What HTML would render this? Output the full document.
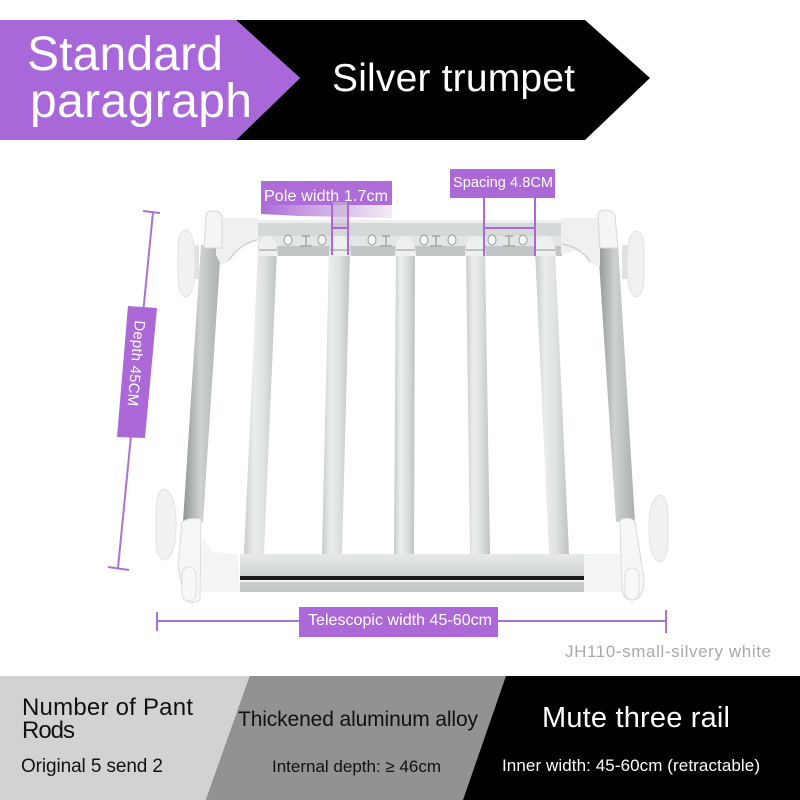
<!DOCTYPE html>
<html>
<head>
<meta charset="utf-8">
<style>
html,body{margin:0;padding:0;background:#fff;width:800px;height:800px;overflow:hidden}
svg{display:block}
text{font-family:"Liberation Sans",sans-serif}
</style>
</head>
<body>
<svg width="800" height="800" viewBox="0 0 800 800" xmlns="http://www.w3.org/2000/svg">
<defs>
<linearGradient id="rod" x1="0" x2="1" y1="0" y2="0">
<stop offset="0" stop-color="#c6caca"/><stop offset=".3" stop-color="#eceeee"/><stop offset=".65" stop-color="#dcdfdf"/><stop offset="1" stop-color="#bec2c2"/>
</linearGradient>
<linearGradient id="side" x1="0" x2="1" y1="0" y2="0">
<stop offset="0" stop-color="#8f9393"/><stop offset=".45" stop-color="#cfd2d2"/><stop offset="1" stop-color="#aaaeae"/>
</linearGradient>
<linearGradient id="bar" x1="0" x2="0" y1="0" y2="1">
<stop offset="0" stop-color="#e8eaea"/><stop offset=".55" stop-color="#cfd2d2"/><stop offset="1" stop-color="#c4c7c7"/>
</linearGradient>
<linearGradient id="fade" x1="0" x2="1" y1="0" y2="0">
<stop offset="0" stop-color="#ad6cd8"/><stop offset=".35" stop-color="#c79de3"/><stop offset="1" stop-color="#f3ecf7"/>
</linearGradient>
</defs>
<rect width="800" height="800" fill="#fff"/>

<!-- header -->
<polygon points="236,20 585,20 650,78 585,140 236,140 300,78" fill="#000"/>
<polygon points="0,20 236,20 300,78 236,140 0,140" fill="#a968d9"/>
<text x="27" y="70" font-size="48" fill="#fff" textLength="196" lengthAdjust="spacing">Standard</text>
<text x="30" y="117" font-size="48" fill="#fff" textLength="222" lengthAdjust="spacing">paragraph</text>
<text x="332" y="91" font-size="39" fill="#fff" textLength="243" lengthAdjust="spacing">Silver trumpet</text>

<!-- rods -->
<polygon points="258,250 277,250 264,554 244,554" fill="url(#rod)"/>
<polygon points="329,250 350,250 342,554 322,554" fill="url(#rod)"/>
<polygon points="396,250 415,250 414,554 394,554" fill="url(#rod)"/>
<polygon points="466,250 485,250 490,554 470,554" fill="url(#rod)"/>
<polygon points="535,250 555,250 569,554 549,554" fill="url(#rod)"/>

<!-- side rails -->
<polygon points="201,245 221,245 203,522 183,522" fill="url(#side)"/>
<polygon points="598,245 618,245 635,522 616,522" fill="url(#side)"/>

<!-- top bar -->
<rect x="258" y="220" width="304" height="36" fill="#d5d8d8"/>
<rect x="258" y="220" width="304" height="3" fill="#eef0f0"/>
<rect x="258" y="236" width="304" height="10" fill="#e4e6e6"/>
<rect x="258" y="246" width="304" height="10" fill="#c2c5c5"/>
<g fill="#f4f5f5" stroke="#9a9d9d" stroke-width="1">
<ellipse cx="288" cy="240" rx="4" ry="5"/><ellipse cx="322" cy="240" rx="4" ry="5"/>
<ellipse cx="372" cy="240" rx="4" ry="5"/><ellipse cx="424" cy="240" rx="4" ry="5"/>
<ellipse cx="452" cy="240" rx="4" ry="5"/><ellipse cx="492" cy="240" rx="4" ry="5"/>
<ellipse cx="523" cy="240" rx="4" ry="5"/>
</g>
<g stroke="#a3a6a6" stroke-width="1.5" fill="none">
<path d="M302,236h8M306,236v10M300,246h12"/>
<path d="M382,236h8M386,236v10M380,246h12"/>
<path d="M432,236h8M436,236v10M430,246h12"/>
<path d="M505,236h8M509,236v10M503,246h12"/>
</g>
<g fill="#eef0f0">
<path d="M258,256 Q258,236 268,236 Q277,236 278,256Z"/>
<path d="M329,256 Q329,236 340,236 Q350,236 351,256Z"/>
<path d="M395,256 Q395,236 405,236 Q415,236 416,256Z"/>
<path d="M465,256 Q465,236 475,236 Q485,236 486,256Z"/>
<path d="M534,256 Q534,236 545,236 Q555,236 556,256Z"/>
</g>
<g fill="none" stroke="#8f9292" stroke-width="1">
<line x1="259" y1="250" x2="277" y2="250"/><line x1="330" y1="250" x2="350" y2="250"/>
<line x1="396" y1="250" x2="415" y2="250"/><line x1="466" y1="250" x2="485" y2="250"/>
<line x1="535" y1="250" x2="555" y2="250"/>
</g>

<!-- top corners -->
<polygon points="216,218 258,218 258,240 240,246 228,262 221,265 216,255" fill="#eff0f2"/>
<polygon points="561,218 600,218 600,266 592,264 582,250 561,254" fill="#eff0f2"/>
<path d="M229,260 Q240,244 257,240" fill="none" stroke="#cfd1d3" stroke-width="1.5"/>
<path d="M590,262 Q582,248 562,244" fill="none" stroke="#cfd1d3" stroke-width="1.5"/>
<path d="M206,217 Q206,211 213,211 Q221,211 222,217 L222,248 L204,248Z" fill="#f4f5f7" stroke="#d4d6d8" stroke-width="1"/>
<path d="M598,216 Q598,210 606,210 Q614,211 615,216 L618,248 L600,248Z" fill="#f4f5f7" stroke="#d4d6d8" stroke-width="1"/>
<rect x="192" y="245" width="7" height="34" fill="#e0e1e4"/>
<rect x="622" y="245" width="7" height="34" fill="#e0e1e4"/>
<g fill="#f1f1f4" stroke="#e2e3e6" stroke-width="1">
<path d="M178,250 Q178,230 186,230 Q195,232 195,262 Q195,295 186,297 Q178,296 178,275Z"/>
<path d="M644,250 Q644,231 636,231 Q627,233 627,263 Q627,295 636,297 Q644,296 644,275Z"/>
<path d="M156,515 Q156,489 164,489 Q176,492 176,525 Q176,558 164,560 Q155,558 156,535Z"/>
<path d="M668,518 Q668,495 660,495 Q649,498 649,528 Q649,560 660,562 Q668,560 668,540Z"/>
</g>

<!-- bottom bar -->
<rect x="240" y="554" width="344" height="38" fill="url(#bar)"/>
<rect x="240" y="576" width="344" height="4" fill="#1a1a1a"/>
<rect x="240" y="580" width="344" height="2" fill="#f2f3f3"/>

<!-- bottom corners -->
<polygon points="203,538 213,552 238,554 240,592 195,592" fill="#f3f4f6"/>
<polygon points="584,554 625,554 620,540 634,530 640,592 584,592" fill="#f3f4f6"/>
<path d="M182,522 Q190,517 201,519 L200,600 Q190,606 184,598 L178,566Z" fill="#f5f6f8" stroke="#dadbdd" stroke-width="1"/>
<rect x="182" y="567" width="14" height="34" rx="7" fill="#f8f8fa" stroke="#dcdde0" stroke-width="1"/>
<path d="M620,520 Q628,516 635,521 L644,580 Q644,600 632,600 Q624,600 622,590Z" fill="#f5f6f8" stroke="#dadbdd" stroke-width="1"/>
<rect x="625" y="568" width="14" height="32" rx="7" fill="#f8f8fa" stroke="#dcdde0" stroke-width="1"/>

<!-- measure: depth -->
<g stroke="#ab73cf" stroke-width="2" fill="none">
<line x1="143" y1="211" x2="160" y2="213"/>
<line x1="153" y1="212" x2="118" y2="568"/>
<line x1="108" y1="567" x2="129" y2="570"/>
</g>
<polygon points="128,306 157,308 145,438 117,437" fill="#ab68d6"/>
<text transform="translate(135,320) rotate(95)" font-size="15" fill="#fff" x="0" y="0" textLength="86" lengthAdjust="spacing">Depth 45CM</text>

<!-- measure: pole width -->
<rect x="261" y="181" width="131" height="24" fill="#ad6cd8"/>
<polygon points="261,205 392,205 392,218 300,216 261,214" fill="url(#fade)"/>
<text x="264" y="201" font-size="16" fill="#fff" textLength="124" lengthAdjust="spacing">Pole width 1.7cm</text>
<rect x="332" y="202" width="16" height="26" fill="#c9b8d4" opacity=".6"/>
<g stroke="#ab68d6" stroke-width="2" fill="none">
<line x1="332" y1="202" x2="332" y2="255"/>
<line x1="348" y1="202" x2="348" y2="255"/>
<line x1="332" y1="228" x2="348" y2="228"/>
</g>

<!-- measure: spacing -->
<rect x="450" y="169" width="105" height="29" fill="#ab68d6"/>
<text x="453" y="187" font-size="14.5" fill="#fff" textLength="100" lengthAdjust="spacing">Spacing 4.8CM</text>
<g stroke="#ab68d6" stroke-width="2" fill="none">
<line x1="484" y1="198" x2="484" y2="256"/>
<line x1="535" y1="198" x2="535" y2="256"/>
<line x1="484" y1="228" x2="535" y2="228"/>
</g>

<!-- measure: telescopic -->
<g stroke="#ab73cf" stroke-width="2" fill="none">
<line x1="157" y1="612" x2="157" y2="631"/>
<line x1="157" y1="621" x2="300" y2="621"/>
<line x1="498" y1="621" x2="666" y2="621"/>
<line x1="666" y1="610" x2="666" y2="633"/>
</g>
<rect x="299" y="607" width="199" height="30" fill="#ab68d6"/>
<text x="308" y="625" font-size="16" fill="#fff" textLength="184" lengthAdjust="spacing">Telescopic width 45-60cm</text>

<text x="565" y="657" font-size="17" fill="#a9a9a9" textLength="206" lengthAdjust="spacing">JH110-small-silvery white</text>

<!-- footer -->
<rect x="0" y="676" width="800" height="124" fill="#000"/>
<polygon points="0,676 250,676 206,800 0,800" fill="#d2d2d2"/>
<polygon points="250,676 506,676 463,800 206,800" fill="#929292"/>
<text x="22" y="715" font-size="24" fill="#111" textLength="171" lengthAdjust="spacing">Number of Pant</text>
<text x="22" y="738" font-size="24" fill="#111" textLength="53" lengthAdjust="spacing">Rods</text>
<text x="21" y="772" font-size="19" fill="#111" textLength="142" lengthAdjust="spacing">Original 5 send 2</text>
<text x="238" y="726" font-size="21" fill="#111" textLength="240" lengthAdjust="spacing">Thickened aluminum alloy</text>
<text x="272" y="772" font-size="17" fill="#111" textLength="169" lengthAdjust="spacing">Internal depth: ≥ 46cm</text>
<text x="542" y="727" font-size="29" fill="#fff" textLength="188" lengthAdjust="spacing">Mute three rail</text>
<text x="502" y="771" font-size="17" fill="#fff" textLength="258" lengthAdjust="spacing">Inner width: 45-60cm (retractable)</text>
</svg>
</body>
</html>
